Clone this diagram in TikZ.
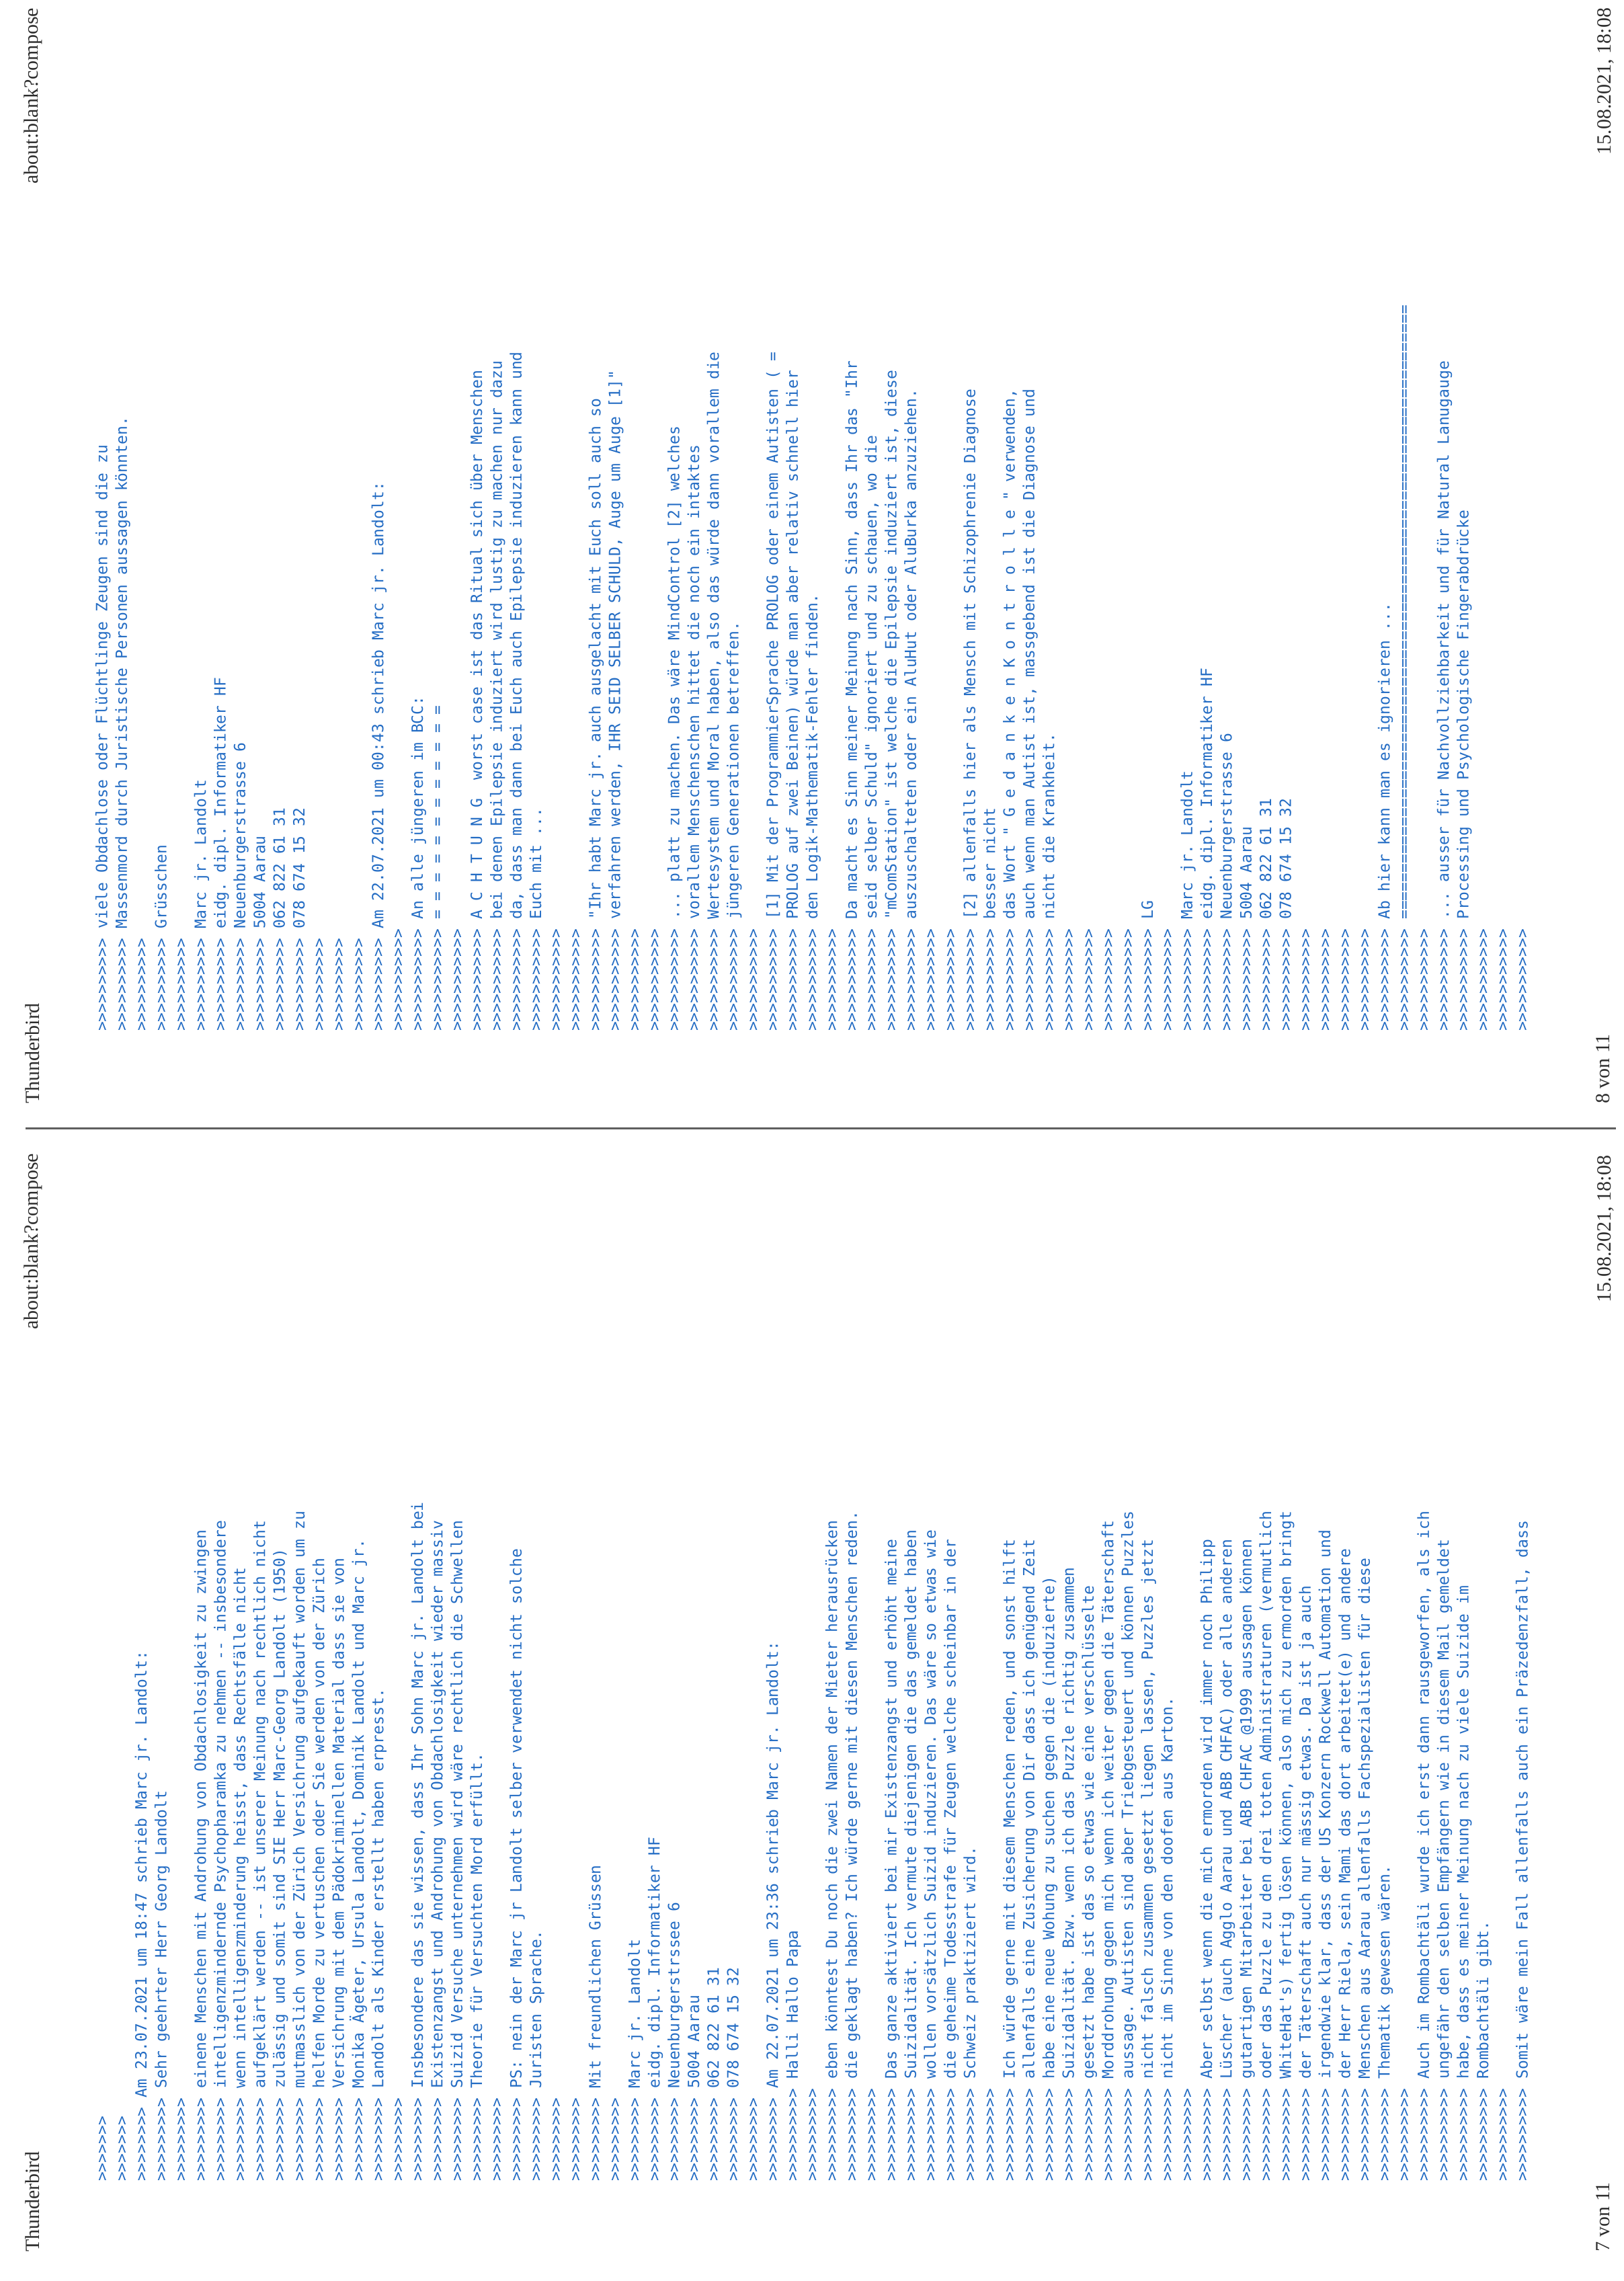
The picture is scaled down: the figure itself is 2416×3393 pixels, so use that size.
\documentclass[tikz,border=0pt]{standalone}
\usepackage{fontspec}
\setmainfont{Liberation Serif}
\setmonofont{DejaVu Sans Mono}
\definecolor{bodyblue}{RGB}{35,108,196}
\definecolor{labgray}{RGB}{45,45,45}
\definecolor{seamgray}{RGB}{95,95,95}
\newcommand\qA{>>>>>>>}
\newcommand\qB{>>>>>>>>}
\newcommand\qC{>>>>>>>>>}
\newcommand\qD{>>>>>>>>>>}
\newcommand\qE{>>>>>>>>>>>}
\newcommand\bodyfont{\fontsize{23}{28}\selectfont\ttfamily}
\newcommand\xbase{159.5}
\newcommand\xstep{29.35}
\newcommand\Lg[2]{\node[tline] (g#1) at ({\xbase+\xstep*(#1-1)},148) {#2};}
\newcommand\Lh[2]{\node[tline] (h#1) at ({\xbase+\xstep*(#1-1)},1859) {#2};}
\begin{document}
\begin{tikzpicture}[x=1pt,y=1pt,
  tline/.style={rotate=90, anchor=base west, inner sep=0pt, outer sep=0pt, text=bodyblue, font=\bodyfont},
  lab/.style={rotate=90, inner sep=0pt, outer sep=0pt, text=labgray, font=\fontsize{30}{36}\selectfont}]
\useasboundingbox (0,0) rectangle (2416,3393);
\fill[white] (0,0) rectangle (2416,3393);
% seam between the two pages
\coordinate (seamL) at (38,1714);
\coordinate (seamR) at (2404,1714);
\draw[seamgray, line width=3pt] (seamL) -- (seamR);
% ---------- page 8 (upper half) labels ----------
\node[lab, anchor=base west] (htitle) at (58,1751) {Thunderbird};
\node[lab, anchor=base east] (hurl) at (56,3381) {about:blank?compose};
\node[lab, anchor=base west] (hpage) at (2394,1751) {8 von 11};
\node[lab, anchor=base east] (hdate) at (2396,3381) {15.08.2021, 18:08};
% ---------- page 7 (lower half) labels ----------
\node[lab, anchor=base west] (gtitle) at (58,43) {Thunderbird};
\node[lab, anchor=base east] (gurl) at (56,1677) {about:blank?compose};
\node[lab, anchor=base west] (gpage) at (2394,43) {7 von 11};
\node[lab, anchor=base east] (gdate) at (2396,1674) {15.08.2021, 18:08};
% ---------- page 7 text ----------
\Lg{1}{\qA}
\Lg{2}{\qA}
\Lg{3}{\qB{} Am 23.07.2021 um 18:47 schrieb Marc jr. Landolt:}
\Lg{4}{\qC{} Sehr geehrter Herr Georg Landolt}
\Lg{5}{\qC}
\Lg{6}{\qC{} einene Menschen mit Androhung von Obdachlosigkeit zu zwingen}
\Lg{7}{\qC{} intelligenzmindernde Psychopharamka zu nehmen -{}- insbesondere}
\Lg{8}{\qC{} wenn intelligenzminderung heisst, dass Rechtsfälle nicht}
\Lg{9}{\qC{} aufgeklärt werden -{}- ist unserer Meinung nach rechtlich nicht}
\Lg{10}{\qC{} zulässig und somit sind SIE Herr Marc-Georg Landolt (1950)}
\Lg{11}{\qC{} mutmasslich von der Zürich Versichrung aufgekauft worden um zu}
\Lg{12}{\qC{} helfen Morde zu vertuschen oder Sie werden von der Zürich}
\Lg{13}{\qC{} Versichrung mit dem Pädokriminellen Material dass sie von}
\Lg{14}{\qC{} Monika Ägeter, Ursula Landolt, Dominik Landolt und Marc jr.}
\Lg{15}{\qC{} Landolt als Kinder erstellt haben erpresst.}
\Lg{16}{\qC}
\Lg{17}{\qC{} Insbesondere das sie wissen, dass Ihr Sohn Marc jr. Landolt bei}
\Lg{18}{\qC{} Existenzangst und Androhung von Obdachlosigkeit wieder massiv}
\Lg{19}{\qC{} Suizid Versuche unternehmen wird wäre rechtlich die Schwellen}
\Lg{20}{\qC{} Theorie für Versuchten Mord erfüllt.}
\Lg{21}{\qC}
\Lg{22}{\qC{} PS: nein der Marc jr Landolt selber verwendet nicht solche}
\Lg{23}{\qC{} Juristen Sprache.}
\Lg{24}{\qC}
\Lg{25}{\qC}
\Lg{26}{\qC{} Mit freundlichen Grüssen}
\Lg{27}{\qC}
\Lg{28}{\qC{} Marc jr. Landolt}
\Lg{29}{\qC{} eidg. dipl. Informatiker HF}
\Lg{30}{\qC{} Neuenburgerstrssee 6}
\Lg{31}{\qC{} 5004 Aarau}
\Lg{32}{\qC{} 062 822 61 31}
\Lg{33}{\qC{} 078 674 15 32}
\Lg{34}{\qC}
\Lg{35}{\qC{} Am 22.07.2021 um 23:36 schrieb Marc jr. Landolt:}
\Lg{36}{\qD{} Halli Hallo Papa}
\Lg{37}{\qD}
\Lg{38}{\qD{} eben könntest Du noch die zwei Namen der Mieter herausrücken}
\Lg{39}{\qD{} die geklagt haben? Ich würde gerne mit diesen Menschen reden.}
\Lg{40}{\qD}
\Lg{41}{\qD{} Das ganze aktiviert bei mir Existenzangst und erhöht meine}
\Lg{42}{\qD{} Suizidalität. Ich vermute diejenigen die das gemeldet haben}
\Lg{43}{\qD{} wollen vorsätzlich Suizid induzieren. Das wäre so etwas wie}
\Lg{44}{\qD{} die geheime Todesstrafe für Zeugen welche scheinbar in der}
\Lg{45}{\qD{} Schweiz praktiziert wird.}
\Lg{46}{\qD}
\Lg{47}{\qD{} Ich würde gerne mit diesem Menschen reden, und sonst hilft}
\Lg{48}{\qD{} allenfalls eine Zusicherung von Dir dass ich genügend Zeit}
\Lg{49}{\qD{} habe eine neue Wohung zu suchen gegen die (induzierte)}
\Lg{50}{\qD{} Suizidalität. Bzw. wenn ich das Puzzle richtig zusammen}
\Lg{51}{\qD{} gesetzt habe ist das so etwas wie eine verschlüsselte}
\Lg{52}{\qD{} Morddrohung gegen mich wenn ich weiter gegen die Täterschaft}
\Lg{53}{\qD{} aussage. Autisten sind aber Triebgesteuert und können Puzzles}
\Lg{54}{\qD{} nicht falsch zusammen gesetzt liegen lassen, Puzzles jetzt}
\Lg{55}{\qD{} nicht im Sinne von den doofen aus Karton.}
\Lg{56}{\qD}
\Lg{57}{\qD{} Aber selbst wenn die mich ermorden wird immer noch Philipp}
\Lg{58}{\qD{} Lüscher (auch Agglo Aarau und ABB CHFAC) oder alle anderen}
\Lg{59}{\qD{} gutartigen Mitarbeiter bei ABB CHFAC @1999 aussagen können}
\Lg{60}{\qD{} oder das Puzzle zu den drei toten Administraturen (vermutlich}
\Lg{61}{\qD{} WhiteHat's) fertig lösen können, also mich zu ermorden bringt}
\Lg{62}{\qD{} der Täterschaft auch nur mässig etwas. Da ist ja auch}
\Lg{63}{\qD{} irgendwie klar, dass der US Konzern Rockwell Automation und}
\Lg{64}{\qD{} der Herr Riela, sein Mami das dort arbeitet(e) und andere}
\Lg{65}{\qD{} Menschen aus Aarau allenfalls Fachspezialisten für diese}
\Lg{66}{\qD{} Thematik gewesen wären.}
\Lg{67}{\qD}
\Lg{68}{\qD{} Auch im Rombachtäli wurde ich erst dann rausgeworfen, als ich}
\Lg{69}{\qD{} ungefähr den selben Empfängern wie in diesem Mail gemeldet}
\Lg{70}{\qD{} habe, dass es meiner Meinung nach zu viele Suizide im}
\Lg{71}{\qD{} Rombachtäli gibt.}
\Lg{72}{\qD}
\Lg{73}{\qD{} Somit wäre mein Fall allenfalls auch ein Präzedenzfall, dass}
% ---------- page 8 text ----------
\Lh{1}{\qD{} viele Obdachlose oder Flüchtlinge Zeugen sind die zu}
\Lh{2}{\qD{} Massenmord durch Juristische Personen aussagen könnten.}
\Lh{3}{\qD}
\Lh{4}{\qD{} Grüsschen}
\Lh{5}{\qD}
\Lh{6}{\qD{} Marc jr. Landolt}
\Lh{7}{\qD{} eidg. dipl. Informatiker HF}
\Lh{8}{\qD{} Neuenburgerstrasse 6}
\Lh{9}{\qD{} 5004 Aarau}
\Lh{10}{\qD{} 062 822 61 31}
\Lh{11}{\qD{} 078 674 15 32}
\Lh{12}{\qD}
\Lh{13}{\qD}
\Lh{14}{\qD}
\Lh{15}{\qD{} Am 22.07.2021 um 00:43 schrieb Marc jr. Landolt:}
\Lh{16}{\qE}
\Lh{17}{\qE{} An alle jüngeren im BCC:}
\Lh{18}{\qE{} = = = = = = = = = = = =}
\Lh{19}{\qE}
\Lh{20}{\qE{} A C H T U N G\ \ worst case ist das Ritual sich über Menschen}
\Lh{21}{\qE{} bei denen Epilepsie induziert wird lustig zu machen nur dazu}
\Lh{22}{\qE{} da, dass man dann bei Euch auch Epilepsie induzieren kann und}
\Lh{23}{\qE{} Euch mit ...}
\Lh{24}{\qE}
\Lh{25}{\qE}
\Lh{26}{\qE{} "Ihr habt Marc jr. auch ausgelacht mit Euch soll auch so}
\Lh{27}{\qE{} verfahren werden, IHR SEID SELBER SCHULD, Auge um Auge [1]"}
\Lh{28}{\qE}
\Lh{29}{\qE}
\Lh{30}{\qE{} ... platt zu machen. Das wäre MindControl [2] welches}
\Lh{31}{\qE{} vorallem Menschenschen hittet die noch ein intaktes}
\Lh{32}{\qE{} Wertesystem und Moral haben, also das würde dann vorallem die}
\Lh{33}{\qE{} jüngeren Generationen betreffen.}
\Lh{34}{\qE}
\Lh{35}{\qE{} [1] Mit der ProgrammierSprache PROLOG oder einem Autisten ( =}
\Lh{36}{\qE{} PROLOG auf zwei Beinen) würde man aber relativ schnell hier}
\Lh{37}{\qE{} den Logik-Mathematik-Fehler finden.}
\Lh{38}{\qE}
\Lh{39}{\qE{} Da macht es Sinn meiner Meinung nach Sinn, dass Ihr das "Ihr}
\Lh{40}{\qE{} seid selber Schuld" ignoriert und zu schauen, wo die}
\Lh{41}{\qE{} "mComStation" ist welche die Epilepsie induziert ist, diese}
\Lh{42}{\qE{} auszuschalteten oder ein AluHut oder AluBurka anzuziehen.}
\Lh{43}{\qE}
\Lh{44}{\qE}
\Lh{45}{\qE{} [2] allenfalls hier als Mensch mit Schizophrenie Diagnose}
\Lh{46}{\qE{} besser nicht}
\Lh{47}{\qE{} das Wort " G e d a n k e n K o n t r o l l e " verwenden,}
\Lh{48}{\qE{} auch wenn man Autist ist, massgebend ist die Diagnose und}
\Lh{49}{\qE{} nicht die Krankheit.}
\Lh{50}{\qE}
\Lh{51}{\qE}
\Lh{52}{\qE}
\Lh{53}{\qE}
\Lh{54}{\qE{} LG}
\Lh{55}{\qE}
\Lh{56}{\qE{} Marc jr. Landolt}
\Lh{57}{\qE{} eidg. dipl. Informatiker HF}
\Lh{58}{\qE{} Neuenburgerstrasse 6}
\Lh{59}{\qE{} 5004 Aarau}
\Lh{60}{\qE{} 062 822 61 31}
\Lh{61}{\qE{} 078 674 15 32}
\Lh{62}{\qE}
\Lh{63}{\qE}
\Lh{64}{\qE}
\Lh{65}{\qE}
\Lh{66}{\qE{} Ab hier kann man es ignorieren ...}
\Lh{67}{\qE{} ==================================================================}
\Lh{68}{\qE}
\Lh{69}{\qE{} ... ausser für Nachvollziehbarkeit und für Natural Lanugauge}
\Lh{70}{\qE{} Processing und Psychologische Fingerabdrücke}
\Lh{71}{\qE}
\Lh{72}{\qE}
\Lh{73}{\qE}
\end{tikzpicture}
\end{document}
